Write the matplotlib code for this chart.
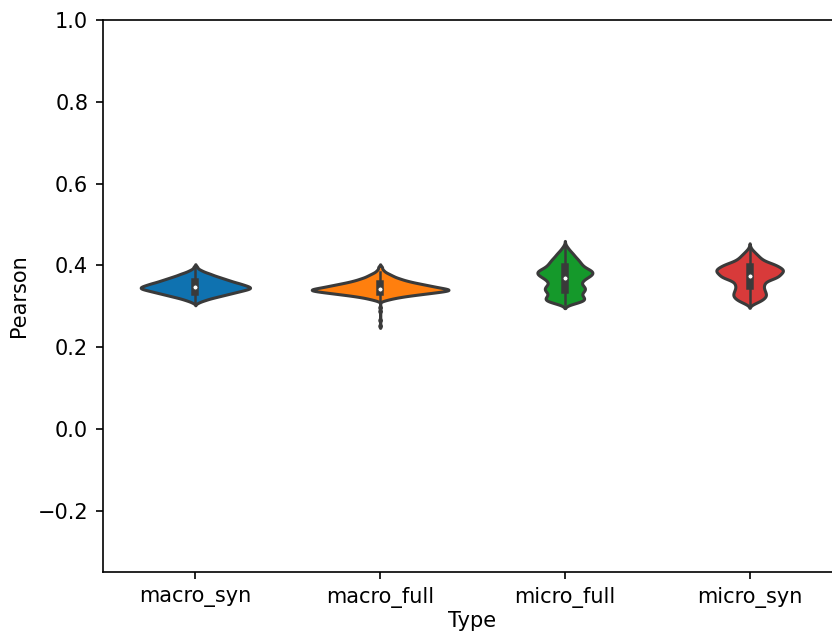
import numpy as np
import pandas as pd
import matplotlib
matplotlib.use("Agg")
import matplotlib.pyplot as plt
import seaborn as sns

# categories on the x axis and their fill colours
types = ["macro_syn", "macro_full", "micro_full", "micro_syn"]
colors = ["#0f72b0", "#ff7f0e", "#15992b", "#d83a3a"]
gray = "#3a3a3a"

# Pearson scores per type, as value + how many runs gave it
macro_syn_vals = [0.3075, 0.3100, 0.3125, 0.3150, 0.3175, 0.3200, 0.3225, 0.3250,
                  0.3275, 0.3300, 0.3325, 0.3350, 0.3375, 0.3400, 0.3425, 0.3450,
                  0.3475, 0.3500, 0.3525, 0.3550, 0.3575, 0.3600, 0.3625, 0.3650,
                  0.3675, 0.3700, 0.3725, 0.3750, 0.3775, 0.3800, 0.3825, 0.3850,
                  0.3875, 0.3900, 0.3925, 0.3950, 0.3975]
macro_syn_counts = [1, 2, 3, 5, 6, 8, 10, 12,
                    14, 16, 18, 20, 22, 24, 26, 27,
                    26, 25, 23, 22, 20, 18, 17, 15,
                    14, 12, 11, 9, 8, 7, 5, 4,
                    3, 2, 1, 1, 1]

macro_full_vals = [0.2520, 0.2660, 0.2880, 0.2970,
                   0.3125, 0.3150, 0.3175, 0.3200, 0.3225, 0.3250, 0.3275, 0.3300,
                   0.3325, 0.3350, 0.3375, 0.3400, 0.3425, 0.3450, 0.3475, 0.3500,
                   0.3525, 0.3550, 0.3575, 0.3600, 0.3625, 0.3650, 0.3675, 0.3700,
                   0.3725, 0.3750, 0.3775, 0.3800, 0.3825, 0.3850, 0.3875, 0.3900,
                   0.3925, 0.3950, 0.3975]
macro_full_counts = [1, 1, 1, 1,
                     1, 3, 5, 7, 10, 13, 17, 21,
                     25, 29, 33, 35, 33, 30, 27, 25,
                     22, 20, 17, 15, 13, 11, 10, 8,
                     7, 6, 5, 4, 3, 2, 2, 1,
                     1, 1, 1]

micro_full_vals = [0.305, 0.310, 0.315, 0.320, 0.325, 0.330, 0.335, 0.340, 0.345, 0.350,
                   0.355, 0.360, 0.365, 0.370, 0.375, 0.380, 0.385, 0.390, 0.395, 0.400,
                   0.405, 0.410, 0.415, 0.420, 0.425, 0.430, 0.435, 0.440, 0.445, 0.450]
micro_full_counts = [8, 20, 27, 26, 23, 21, 24, 27, 27, 24,
                     21, 22, 25, 29, 34, 37, 37, 32, 26, 23,
                     21, 19, 17, 14, 12, 10, 7, 5, 3, 1]

micro_syn_vals = [0.305, 0.310, 0.315, 0.320, 0.325, 0.330, 0.335, 0.340, 0.345, 0.350,
                  0.355, 0.360, 0.365, 0.370, 0.375, 0.380, 0.385, 0.390, 0.395, 0.400,
                  0.405, 0.410, 0.415, 0.420, 0.425, 0.430, 0.435, 0.440, 0.445]
micro_syn_counts = [4, 10, 15, 18, 20, 20, 19, 18, 17, 17,
                    18, 19, 25, 33, 36, 38, 41, 41, 37, 33,
                    27, 19, 15, 12, 10, 7, 5, 2, 1]

scores = [
    np.repeat(macro_syn_vals, macro_syn_counts),
    np.repeat(macro_full_vals, macro_full_counts),
    np.repeat(micro_full_vals, micro_full_counts),
    np.repeat(micro_syn_vals, micro_syn_counts),
]
df = pd.DataFrame({
    "Type": np.repeat(types, [len(s) for s in scores]),
    "Pearson": np.concatenate(scores),
})

# picture is ~1.5x a default 10pt figure
plt.rcParams["font.size"] = 15
plt.rcParams["axes.linewidth"] = 1.2
plt.rcParams["axes.labelpad"] = 6
for a in ("xtick", "ytick"):
    plt.rcParams[a + ".major.size"] = 5.2
    plt.rcParams[a + ".major.width"] = 1.2
    plt.rcParams[a + ".major.pad"] = 5.5

fig = plt.figure(figsize=(8.32, 6.34), dpi=100)
# the right edge of the axes runs off the picture
ax = fig.add_axes([103 / 832, 62 / 634, 739 / 832, 552 / 634])
# common_norm so widths compare across types (same area per violin)
sns.violinplot(data=df, x="Type", y="Pearson", hue="Type", order=types,
               palette=colors, saturation=1, linewidth=2.2, linecolor=gray,
               inner=None, width=0.74, bw_adjust=0.5, cut=2, gridsize=250,
               density_norm="area", common_norm=True, legend=False, ax=ax)

# old-style inner box: whiskers, thick iqr bar, white median dot
for i, s in enumerate(scores):
    q1, med, q3 = np.percentile(s, [25, 50, 75])
    lim = 1.5 * (q3 - q1)
    lo = s[s >= q1 - lim].min()
    hi = s[s <= q3 + lim].max()
    ax.plot([i, i], [lo, hi], lw=1.8, color=gray, zorder=3)
    ax.plot([i, i], [q1, q3], lw=5.4, color=gray, zorder=3)
    ax.scatter(i, med, s=14, color="white", edgecolor=gray, linewidth=0.8, zorder=4)

ax.set_ylim(-0.35, 1.0)
ax.set_xlim(-0.5, 3.5)
ax.set_xlabel("Type", labelpad=2)

fig.savefig("out.png", dpi=100)
